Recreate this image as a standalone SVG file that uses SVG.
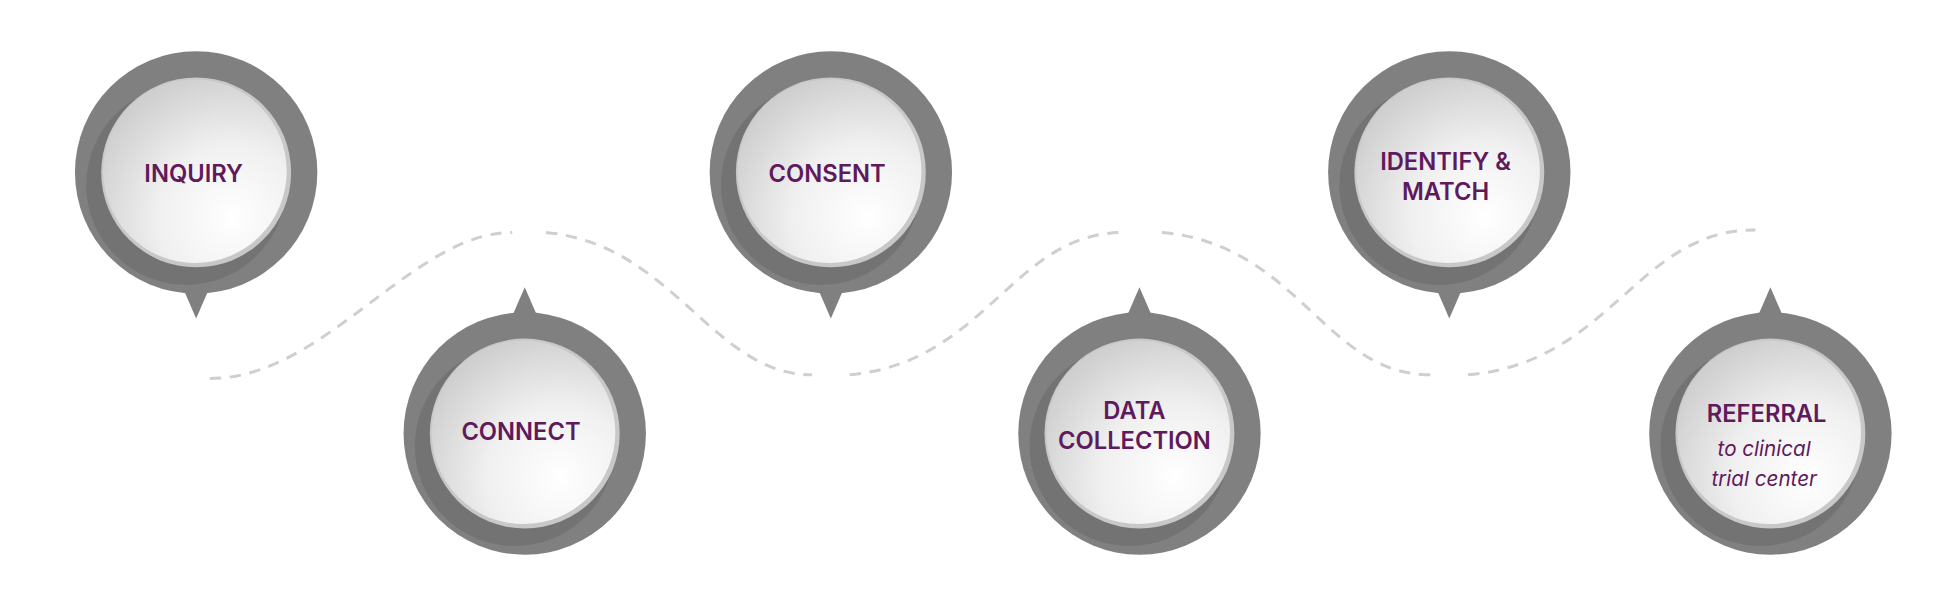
<svg xmlns="http://www.w3.org/2000/svg" width="1959" height="600" viewBox="0 0 1959 600">
<defs>
<radialGradient id="g" cx="0.7" cy="0.75" r="0.8">
<stop offset="0" stop-color="#ffffff"/><stop offset="0.5" stop-color="#f0f0f0"/><stop offset="1" stop-color="#cfcfcf"/>
</radialGradient>
<style>
.ring{fill:#808080}
.shade{fill:#737373}
.rim{fill:#c8c8c8}
.face{fill:url(#g)}
.t{font-family:Inter,"Noto Sans",sans-serif;font-weight:600;font-size:19px;fill:#5f1a5c;text-anchor:middle}
.i{font-family:Inter,"Noto Sans",sans-serif;font-style:italic;font-size:16.5px;fill:#5f1a5c;text-anchor:middle}
.dash{fill:none;stroke:#cfcfcf;stroke-width:2.4;stroke-dasharray:9 7}
</style>
<g id="node">
<circle class="ring" r="97"/>
<circle class="shade" cx="-8" cy="10" r="80"/>
<circle class="rim" r="76"/>
<circle class="face" cx="-1" cy="-1" r="73.5"/>
</g>
</defs>
<rect width="1959" height="600" fill="#fff"/>
<g transform="scale(1.2494)">
<g id="connectors">
<path class="dash" d="M168,303 C260,303 330,186 410,186"/>
<path class="dash" d="M437,186 C540,196 570,300 650,300"/>
<path class="dash" d="M680,300 C790,290 810,186 900,186"/>
<path class="dash" d="M930,186 C1040,196 1060,300 1145,300"/>
<path class="dash" d="M1175,300 C1290,290 1310,184 1405,184"/>
</g>
<g id="inquiry"><use href="#node" x="157" y="138"/><path class="ring" d="M147,232 L157,255 L167,232Z"/><text class="t" x="155" y="146">INQUIRY</text></g>
<g id="connect"><use href="#node" x="420" y="347"/><path class="ring" d="M410,253 L420,230 L430,253Z"/><text class="t" x="417" y="352">CONNECT</text></g>
<g id="consent"><use href="#node" x="665" y="138"/><path class="ring" d="M655,232 L665,255 L675,232Z"/><text class="t" x="662" y="146">CONSENT</text></g>
<g id="data"><use href="#node" x="912" y="347"/><path class="ring" d="M902,253 L912,230 L922,253Z"/><text class="t" x="908" y="335">DATA</text><text class="t" x="908" y="359">COLLECTION</text></g>
<g id="identify"><use href="#node" x="1160" y="138"/><path class="ring" d="M1150,232 L1160,255 L1170,232Z"/><text class="t" x="1157" y="136">IDENTIFY &amp;</text><text class="t" x="1157" y="160">MATCH</text></g>
<g id="referral"><use href="#node" x="1417" y="347"/><path class="ring" d="M1407,253 L1417,230 L1427,253Z"/><text class="t" x="1414" y="338">REFERRAL</text><text class="i" x="1412" y="365">to clinical</text><text class="i" x="1412" y="389">trial center</text></g>
</g>
</svg>
